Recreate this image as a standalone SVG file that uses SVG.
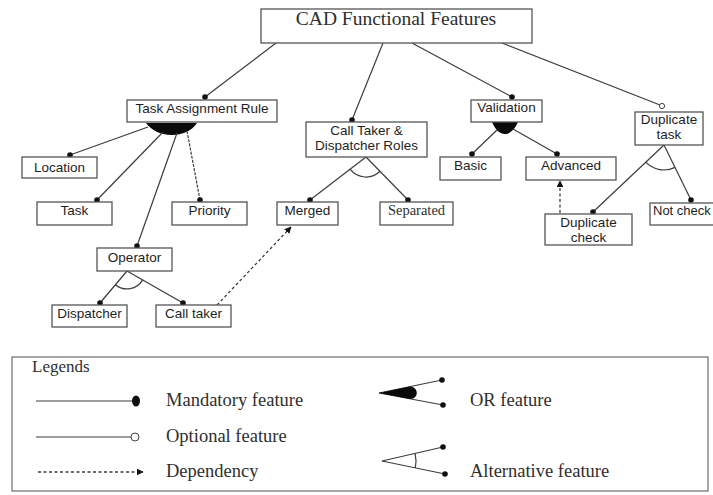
<svg xmlns="http://www.w3.org/2000/svg" width="713" height="495" viewBox="0 0 713 495">
  <style>
    .box { fill: #ffffff; stroke: #555555; stroke-width: 1.3; }
    .lbl { font-family: "Liberation Sans", Arial, sans-serif; font-size: 13.5px; fill: #1e1e1e; text-anchor: middle; }
    .lbl-start { font-family: "Liberation Sans", Arial, sans-serif; font-size: 13px; fill: #1e1e1e; text-anchor: start; }
    .serif { font-family: "Liberation Serif", "Times New Roman", serif; fill: #2e2e2e; }
    .edge { stroke: #3c3c3c; stroke-width: 1.2; fill: none; }
    .dep { stroke: #3c3c3c; stroke-width: 1.3; fill: none; stroke-dasharray: 3 2.5; }
    .dot { fill: #111111; }
    .open { fill: #ffffff; stroke: #444444; stroke-width: 1; }
    .orfill { fill: #0a0a0a; }
  </style>
  <defs>
    <marker id="arrow" viewBox="0 0 10 10" refX="9" refY="5" markerWidth="7" markerHeight="7" orient="auto" markerUnits="userSpaceOnUse">
      <path d="M0,0 L10,5 L0,10 Z" fill="#111111"/>
    </marker>
  </defs>
  <rect width="713" height="495" fill="#ffffff"/>

  <!-- connectors -->
  <g id="connectors">
    <!-- root to children -->
    <line class="edge" x1="276" y1="43" x2="205" y2="97"/>
    <line class="edge" x1="383" y1="43" x2="352" y2="120"/>
    <line class="edge" x1="412" y1="43" x2="512" y2="97"/>
    <line class="edge" x1="502" y1="43" x2="660" y2="105"/>
    <!-- Task Assignment Rule: OR group -->
    <path class="orfill" d="M146,123 L197,123 C192,131 182,135 172,135 C160,135 151,130 146,123 Z"/>
    <line class="edge" x1="148" y1="127" x2="70" y2="155"/>
    <line class="edge" x1="163" y1="132" x2="97" y2="200"/>
    <line class="edge" x1="177" y1="133" x2="137" y2="246"/>
    <line class="edge" x1="187" y1="131" x2="200" y2="200" stroke-dasharray="3 1.2"/>
    <!-- Operator: alternative group -->
    <line class="edge" x1="127" y1="271" x2="100" y2="303"/>
    <line class="edge" x1="127" y1="271" x2="183" y2="303"/>
    <path class="edge" d="M115.4,284.7 A18,18 0 0 0 142.6,279.9"/>
    <!-- Call Taker & Dispatcher Roles: alternative group -->
    <line class="edge" x1="366" y1="157" x2="310" y2="200"/>
    <line class="edge" x1="366" y1="157" x2="408" y2="200"/>
    <path class="edge" d="M350.1,169.2 A20,20 0 0 0 380,171.3"/>
    <!-- Validation: OR group -->
    <path class="orfill" d="M492,122 L518,122 C515,129 510,134 505,134 C499,134 495,129 492,122 Z"/>
    <line class="edge" x1="497" y1="130" x2="472" y2="154"/>
    <line class="edge" x1="513" y1="129" x2="557" y2="154"/>
    <!-- Duplicate task: alternative group -->
    <line class="edge" x1="664" y1="145" x2="593" y2="212"/>
    <line class="edge" x1="664" y1="145" x2="691" y2="200"/>
    <path class="edge" d="M645.8,162.2 A25,25 0 0 0 675,167.4"/>
    <!-- dependencies -->
    <line class="dep" x1="217" y1="305" x2="291" y2="227" marker-end="url(#arrow)"/>
    <line class="dep" x1="560" y1="213" x2="560" y2="181" marker-end="url(#arrow)"/>
    <!-- feature end markers -->
    <circle class="dot" cx="205" cy="97" r="2.8"/>
    <circle class="dot" cx="352" cy="120" r="2.8"/>
    <circle class="dot" cx="512" cy="97" r="2.8"/>
    <circle class="open" cx="662" cy="106" r="2.6"/>
    <circle class="dot" cx="70" cy="155" r="2.8"/>
    <circle class="dot" cx="97" cy="200" r="2.8"/>
    <circle class="dot" cx="137" cy="246" r="2.8"/>
    <circle class="dot" cx="200" cy="200" r="2.8"/>
    <circle class="dot" cx="100" cy="303" r="2.8"/>
    <circle class="dot" cx="183" cy="303" r="2.8"/>
    <circle class="dot" cx="310" cy="200" r="2.8"/>
    <circle class="dot" cx="408" cy="200" r="2.8"/>
    <circle class="dot" cx="472" cy="154" r="2.8"/>
    <circle class="dot" cx="557" cy="154" r="2.8"/>
    <circle class="dot" cx="593" cy="212" r="2.8"/>
    <circle class="dot" cx="691" cy="200" r="2.8"/>
  </g>

  <!-- nodes -->
  <g id="root">
    <rect class="box" x="261" y="9" width="271" height="34"/>
    <text class="serif" x="396" y="25" font-size="19.5" text-anchor="middle">CAD Functional Features</text>
  </g>
  <g id="task-assignment-rule">
    <rect class="box" x="127" y="100" width="150" height="22"/>
    <text class="lbl" x="202" y="113">Task Assignment Rule</text>
  </g>
  <g id="location">
    <rect class="box" x="22" y="157" width="75" height="21"/>
    <text class="lbl" x="59.5" y="172">Location</text>
  </g>
  <g id="task">
    <rect class="box" x="37" y="202" width="75" height="23"/>
    <text class="lbl" x="74.5" y="215">Task</text>
  </g>
  <g id="priority">
    <rect class="box" x="172" y="202" width="75" height="23"/>
    <text class="lbl" x="209.5" y="215">Priority</text>
  </g>
  <g id="operator">
    <rect class="box" x="97" y="248" width="75" height="23"/>
    <text class="lbl" x="134.5" y="262">Operator</text>
  </g>
  <g id="dispatcher">
    <rect class="box" x="52" y="305" width="75" height="22"/>
    <text class="lbl" x="89.5" y="318">Dispatcher</text>
  </g>
  <g id="call-taker">
    <rect class="box" x="156" y="305" width="75" height="22"/>
    <text class="lbl" x="193.5" y="318">Call taker</text>
  </g>
  <g id="roles">
    <rect class="box" x="306" y="122" width="121" height="35"/>
    <text class="lbl" x="366.5" y="135">Call Taker &amp;</text>
    <text class="lbl" x="366.5" y="150">Dispatcher Roles</text>
  </g>
  <g id="merged">
    <rect class="box" x="277" y="202" width="61" height="23"/>
    <text class="lbl" x="307.5" y="215">Merged</text>
  </g>
  <g id="separated">
    <rect class="box" x="380" y="202" width="73" height="23"/>
    <text class="serif" x="416.5" y="215" font-size="14.5" text-anchor="middle">Separated</text>
  </g>
  <g id="validation">
    <rect class="box" x="471" y="100" width="71" height="22"/>
    <text class="lbl" x="506.5" y="112">Validation</text>
  </g>
  <g id="basic">
    <rect class="box" x="440" y="157" width="61" height="23"/>
    <text class="lbl" x="470.5" y="170">Basic</text>
  </g>
  <g id="advanced">
    <rect class="box" x="526" y="157" width="90" height="23"/>
    <text class="lbl" x="571" y="170">Advanced</text>
  </g>
  <g id="duplicate-task">
    <rect class="box" x="635" y="112" width="68" height="33"/>
    <text class="lbl" x="669" y="124">Duplicate</text>
    <text class="lbl" x="669" y="139">task</text>
  </g>
  <g id="duplicate-check">
    <rect class="box" x="545" y="214" width="87" height="31"/>
    <text class="lbl" x="588.5" y="227">Duplicate</text>
    <text class="lbl" x="588.5" y="242">check</text>
  </g>
  <g id="not-check">
    <rect class="box" x="650" y="203" width="70" height="22"/>
    <text class="lbl-start" x="653" y="215">Not check</text>
  </g>

  <!-- legend -->
  <g id="legend">
    <rect x="12" y="357" width="696" height="134" fill="none" stroke="#777777" stroke-width="1.3"/>
    <text class="serif" x="32" y="372" font-size="17">Legends</text>

    <line class="edge" x1="36" y1="401" x2="133" y2="401"/>
    <ellipse cx="136" cy="401" rx="4" ry="5.5" fill="#111111"/>
    <text class="serif" x="166" y="406" font-size="18.5">Mandatory feature</text>

    <line class="edge" x1="36" y1="437" x2="131" y2="437"/>
    <circle class="open" cx="135" cy="437" r="4"/>
    <text class="serif" x="166" y="442" font-size="18.5">Optional feature</text>

    <line class="dep" x1="38" y1="472" x2="143" y2="472" marker-end="url(#arrow)"/>
    <text class="serif" x="166" y="477" font-size="18.5">Dependency</text>

    <line class="edge" x1="379" y1="393" x2="442" y2="380"/>
    <line class="edge" x1="379" y1="393" x2="443" y2="405"/>
    <path class="orfill" d="M379,393 L410,386.5 C419,387 419,399 410,399 Z"/>
    <circle class="dot" cx="442" cy="380" r="2.8"/>
    <circle class="dot" cx="443" cy="405" r="2.8"/>
    <text class="serif" x="470" y="406" font-size="18.5">OR feature</text>

    <line class="edge" x1="382" y1="461" x2="443" y2="447"/>
    <line class="edge" x1="382" y1="461" x2="445" y2="474"/>
    <path class="edge" d="M415.1,453.4 A34,34 0 0 1 415.3,467.9"/>
    <circle class="dot" cx="443" cy="447" r="2.8"/>
    <circle class="dot" cx="445" cy="474" r="2.8"/>
    <text class="serif" x="470" y="477" font-size="18.5">Alternative feature</text>
  </g>
</svg>
